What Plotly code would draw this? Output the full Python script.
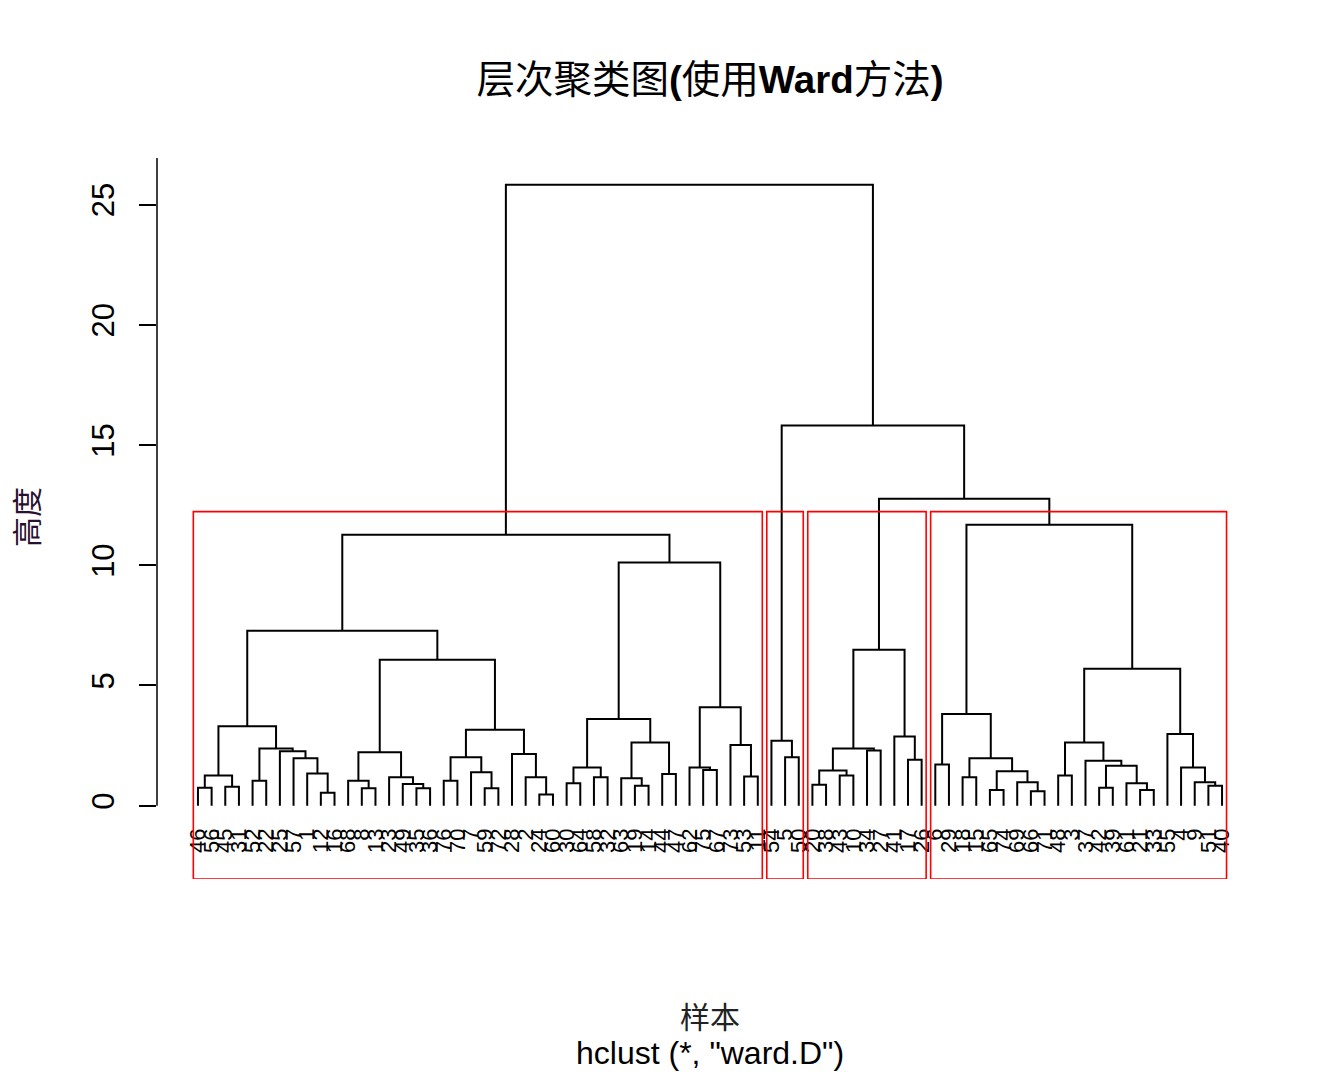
import plotly.graph_objects as go

# ---------------- data ----------------
leaf_labels = [46, 56, 45, 31, 52, 22, 25, 57, 1, 12,
               16, 68, 8, 13, 23, 49, 35, 36, 76, 70,
               7, 59, 72, 28, 2, 24, 60, 30, 64, 58,
               32, 63, 19, 14, 44, 47, 62, 75, 67, 73,
               53, 11,
               54, 5, 50,
               20, 38, 43, 10, 34, 27, 41, 17, 26,
               6, 29, 18, 15, 65, 74, 69, 66, 71, 48,
               3, 37, 42, 39, 61, 21, 33, 55, 4, 9, 51, 40]

# R-style merge matrix: negative = leaf position, positive = earlier merge row
merge_a = [-1, -3, 1, -5, -10, -9, -8, -7, 4, 3,
           -13, -12, -17, -16, -15, 12, -19, -22, -21, 17,
           -26, -25, -24, 20, 16, 10, -28, -30, 27, -33,
           -32, -35, 31, 29, -38, -37, -41, -40, 36, 34,
           26, -44, -43, -46, -48, 44, -50, 46, -53, -52,
           48, -55, -57, -59, -62, -61, 54, 53, 52, -64,
           -67, -70, -69, 61, -66, 60, -75, -74, -73, -72,
           66, 59, 51, 43, 41]
merge_b = [-2, -4, 2, -6, -11, 5, 6, 7, 8, 9,
           -14, 11, -18, 13, 14, 15, -20, -23, 18, 19,
           -27, 21, 22, 23, 24, 25, -29, -31, 28, -34,
           30, -36, 32, 33, -39, 35, -42, 37, 38, 39,
           40, -45, 42, -47, -49, 45, -51, 47, -54, 49,
           50, -56, -58, -60, -63, 55, 56, 57, 58, -65,
           -68, -71, 62, 63, 64, 65, -76, 67, 68, 69,
           70, 71, 72, 73, 74]
merge_h = [0.74, 0.79, 1.25, 1.04, 0.54, 1.34, 1.97, 2.26, 2.38, 3.30,
           0.72, 1.04, 0.72, 0.90, 1.18, 2.22, 1.04, 0.72, 1.39, 2.01,
           0.46, 1.18, 2.15, 3.16, 6.07, 7.28, 0.93, 1.18, 1.59, 0.83,
           1.14, 1.32, 2.63, 3.60, 1.48, 1.59, 1.21, 2.52, 4.09, 10.11,
           11.27, 2.01, 2.70, 0.87, 1.25, 1.46, 2.29, 2.38, 1.91, 2.88,
           6.49, 1.71, 1.18, 0.65, 0.60, 0.97, 1.43, 1.97, 3.81, 1.25,
           0.74, 0.65, 0.93, 1.66, 1.87, 2.63, 0.83, 0.97, 1.59, 2.98,
           5.70, 11.69, 12.77, 15.81, 25.83]

cluster_sizes = [42, 3, 9, 22]
y_ticks = [0, 5, 10, 15, 20, 25]

title_html = "层次聚类图<b>(</b>使用<b>Ward</b>方法<b>)</b>"
x_label = "样本"
y_label = "高度"
sub_label = 'hclust (*, "ward.D")'

# ---------------- geometry via tree ----------------
n = len(leaf_labels)
leaf_pos = list(range(1, n + 1))
node_x, node_h = {}, {}


def ref_pos(r):
    if r < 0:
        return float(leaf_pos[-r - 1]), 0.0
    return node_x[r], node_h[r]


seg_x, seg_y = [], []
for i, (a, b, h) in enumerate(zip(merge_a, merge_b, merge_h), start=1):
    xa, ha = ref_pos(a)
    xb, hb = ref_pos(b)
    seg_x += [xa, xa, xb, xb, None]
    seg_y += [ha, h, h, hb, None]
    node_x[i] = (xa + xb) / 2
    node_h[i] = h

x_range = [1 - 0.04 * (n - 1), n + 0.04 * (n - 1)]
y_min_data = -1.94
h_max = max(merge_h)
span = h_max - y_min_data
y_range = [y_min_data - 0.04 * span, h_max + 0.04 * span]

hs = sorted(merge_h, reverse=True)
k = len(cluster_sizes)
rect_top = (hs[k - 2] + hs[k - 1]) / 2

W, H = 1344, 1075
mt, mb, ml, mr = 158, 196, 157, 81
ph = H - mt - mb

fig = go.Figure()
fig.add_trace(go.Scatter(x=seg_x, y=seg_y, mode="lines",
                         line=dict(color="black", width=2),
                         hoverinfo="skip", showlegend=False))
fig.add_trace(go.Scatter(x=leaf_pos, y=[0] * n, xaxis="x2", mode="markers",
                         marker=dict(size=1, opacity=0),
                         hoverinfo="skip", showlegend=False))

# cluster rectangles
m = [0]
for s in cluster_sizes:
    m.append(m[-1] + s)
for i in range(k):
    fig.add_shape(type="rect", xref="x", yref="y",
                  x0=m[i] + 0.66, x1=m[i + 1] + 0.33,
                  y0=y_range[0], y1=rect_top,
                  line=dict(color="red", width=1.6), fillcolor="rgba(0,0,0,0)")

# y axis line (from 0 up to top of plotting region)
fig.add_shape(type="line", xref="paper", yref="y", x0=0, x1=0,
              y0=y_ticks[0], y1=y_range[1],
              line=dict(color="black", width=1.5))

label_px = 823
fig.update_layout(
    width=W, height=H,
    margin=dict(t=mt, b=mb, l=ml, r=mr, pad=0),
    paper_bgcolor="white", plot_bgcolor="white",
    font=dict(family="Liberation Sans, Arial, Noto Sans CJK SC", color="black"),
    title=dict(text=title_html, x=0.5, xref="paper", xanchor="center",
               y=1 - 80 / H, yref="container", yanchor="middle",
               font=dict(size=38.5, family="Liberation Sans, Noto Sans CJK SC", color="black")),
    xaxis=dict(range=x_range, visible=False, showgrid=False, zeroline=False),
    xaxis2=dict(range=x_range, overlaying="x", anchor="free",
                position=(H - mb - label_px) / ph, side="bottom",
                tickmode="array", tickvals=leaf_pos,
                ticktext=[str(v) for v in leaf_labels],
                tickangle=-90, ticks="", showline=False, showgrid=False,
                zeroline=False,
                tickfont=dict(size=22, family="Liberation Sans", color="black")),
    yaxis=dict(range=y_range, showgrid=False, zeroline=False, showline=False,
               tickmode="array", tickvals=y_ticks,
               ticktext=[str(v) for v in y_ticks],
               ticks="outside", ticklen=17, tickwidth=1.5, tickcolor="black",
               tickangle=-90, ticklabelstandoff=13,
               tickfont=dict(size=31, family="Liberation Sans", color="black")),
)

fig.add_annotation(text=y_label, xref="paper", yref="paper",
                   x=(25 - ml) / (W - ml - mr), y=(H - mb - 517) / ph,
                   xanchor="center", yanchor="middle", textangle=-90,
                   showarrow=False,
                   font=dict(size=30, family="Noto Sans CJK SC", color="#2a1030"))
fig.add_annotation(text=x_label, xref="paper", yref="paper",
                   x=0.5, y=(H - mb - 1015) / ph,
                   xanchor="center", yanchor="middle", showarrow=False,
                   font=dict(size=30, family="Noto Sans CJK SC", color="#222222"))
fig.add_annotation(text=sub_label, xref="paper", yref="paper",
                   x=0.5, y=(H - mb - 1053) / ph,
                   xanchor="center", yanchor="middle", showarrow=False,
                   font=dict(size=32, family="Liberation Sans", color="black"))

fig.write_html("out.html")
